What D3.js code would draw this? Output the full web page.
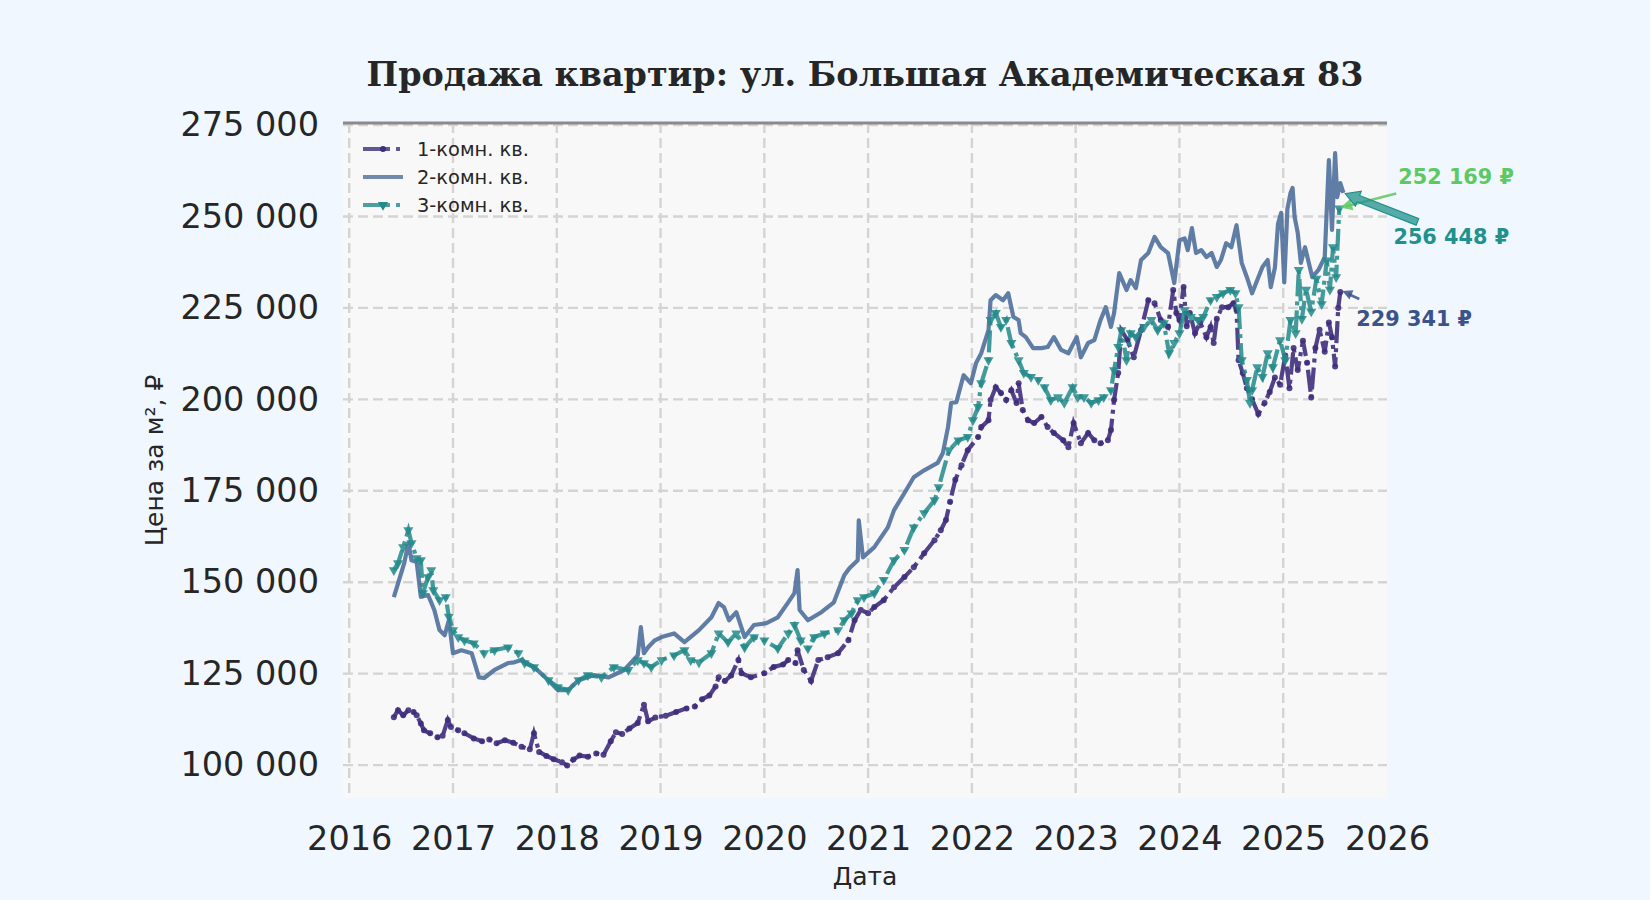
<!DOCTYPE html>
<html lang="ru">
<head>
<meta charset="utf-8">
<title>Продажа квартир</title>
<script src="https://cdn.jsdelivr.net/npm/d3@7"></script>
<style>
  body { margin: 0; background: #f0f7fe; }
</style>
</head>
<body>
<script>
// prices are in thousands of roubles per m2, dates as decimal years
var oneRoom = [[2016.43,113.1],[2016.47,115.0],[2016.52,113.6],[2016.57,115.0],[2016.62,114.5],[2016.65,113.6],[2016.69,111.4],[2016.72,109.5],[2016.78,108.7],[2016.85,107.6],[2016.90,108.0],[2016.95,112.3],[2016.98,110.4],[2017.05,109.5],[2017.11,108.7],[2017.20,107.3],[2017.28,106.5],[2017.35,107.0],[2017.42,106.0],[2017.50,106.8],[2017.58,106.1],[2017.66,105.0],[2017.74,104.3],[2017.78,108.7],[2017.83,103.6],[2017.90,102.5],[2017.97,101.6],[2018.05,100.8],[2018.10,99.9],[2018.16,101.5],[2018.22,102.6],[2018.30,102.3],[2018.38,103.2],[2018.45,102.8],[2018.52,106.5],[2018.57,109.0],[2018.63,108.5],[2018.70,110.0],[2018.78,111.5],[2018.84,116.5],[2018.88,112.0],[2018.95,113.0],[2019.05,113.5],[2019.15,114.5],[2019.25,115.5],[2019.33,116.0],[2019.40,118.0],[2019.47,119.0],[2019.53,121.5],[2019.56,124.0],[2019.62,123.0],[2019.68,124.5],[2019.75,128.7],[2019.78,125.1],[2019.87,124.0],[2020.00,125.1],[2020.09,126.8],[2020.18,127.5],[2020.23,128.7],[2020.30,127.9],[2020.32,131.4],[2020.38,126.0],[2020.45,123.0],[2020.52,128.7],[2020.61,129.5],[2020.71,130.6],[2020.81,134.1],[2020.87,139.6],[2020.93,142.4],[2021.00,141.5],[2021.06,143.2],[2021.15,145.1],[2021.25,148.6],[2021.35,151.4],[2021.44,154.1],[2021.54,157.9],[2021.64,161.5],[2021.70,164.2],[2021.75,167.0],[2021.79,172.0],[2021.84,178.0],[2021.90,182.0],[2021.96,186.1],[2022.06,189.7],[2022.09,192.4],[2022.16,194.3],[2022.18,199.8],[2022.23,203.3],[2022.28,201.7],[2022.33,199.8],[2022.38,202.5],[2022.43,199.0],[2022.45,204.4],[2022.49,197.1],[2022.54,194.3],[2022.60,193.5],[2022.67,195.2],[2022.73,192.4],[2022.79,190.8],[2022.88,188.8],[2022.93,186.9],[2022.98,193.5],[2023.05,188.0],[2023.12,190.8],[2023.18,188.8],[2023.24,188.0],[2023.31,188.8],[2023.34,191.6],[2023.37,199.8],[2023.41,207.2],[2023.44,218.9],[2023.50,216.2],[2023.56,211.5],[2023.63,218.9],[2023.70,227.1],[2023.76,226.3],[2023.82,221.7],[2023.89,219.8],[2023.94,229.9],[2023.97,223.6],[2024.00,221.7],[2024.04,230.7],[2024.07,220.0],[2024.10,223.6],[2024.15,218.1],[2024.20,221.0],[2024.26,217.0],[2024.30,219.8],[2024.33,215.4],[2024.36,222.0],[2024.41,225.2],[2024.47,225.2],[2024.52,226.3],[2024.55,224.4],[2024.57,210.7],[2024.61,207.2],[2024.65,203.0],[2024.70,200.0],[2024.76,196.0],[2024.82,199.0],[2024.87,202.0],[2024.92,206.0],[2024.97,204.0],[2025.02,212.0],[2025.06,203.0],[2025.10,214.0],[2025.14,208.0],[2025.19,216.0],[2025.23,210.0],[2025.27,200.5],[2025.31,214.0],[2025.35,219.0],[2025.40,213.0],[2025.44,221.0],[2025.47,217.0],[2025.50,209.0],[2025.53,225.0],[2025.55,229.341]];

var twoRoom = [[2016.43,145.9],[2016.53,155.2],[2016.57,160.7],[2016.60,156.0],[2016.65,155.5],[2016.69,146.0],[2016.76,146.5],[2016.82,142.4],[2016.87,136.9],[2016.92,135.5],[2016.96,139.6],[2017.00,130.6],[2017.08,131.4],[2017.18,130.6],[2017.25,124.0],[2017.30,123.8],[2017.40,126.0],[2017.53,127.9],[2017.59,128.1],[2017.66,128.7],[2017.78,126.8],[2017.92,123.2],[2018.01,120.5],[2018.11,120.5],[2018.21,123.2],[2018.36,124.6],[2018.50,124.0],[2018.65,126.0],[2018.78,130.0],[2018.81,137.7],[2018.84,130.6],[2018.88,132.2],[2018.94,134.0],[2019.01,135.0],[2019.13,136.0],[2019.23,133.6],[2019.37,136.9],[2019.49,140.4],[2019.56,144.3],[2019.61,143.2],[2019.66,139.6],[2019.73,141.8],[2019.81,135.0],[2019.90,138.3],[2020.02,138.8],[2020.13,140.4],[2020.23,144.5],[2020.29,147.0],[2020.32,153.3],[2020.34,142.4],[2020.42,139.6],[2020.55,141.8],[2020.67,144.5],[2020.77,151.9],[2020.82,153.8],[2020.90,156.0],[2020.91,166.9],[2020.95,156.8],[2021.06,159.6],[2021.19,165.0],[2021.25,169.7],[2021.35,174.4],[2021.44,178.7],[2021.54,180.6],[2021.67,182.6],[2021.72,185.3],[2021.77,192.4],[2021.80,199.0],[2021.85,199.2],[2021.92,206.6],[2021.99,204.4],[2022.04,209.9],[2022.09,212.6],[2022.16,218.9],[2022.18,227.1],[2022.23,228.5],[2022.30,227.1],[2022.35,229.0],[2022.40,222.5],[2022.45,221.7],[2022.47,218.1],[2022.52,217.0],[2022.59,214.0],[2022.67,214.0],[2022.73,214.3],[2022.79,217.0],[2022.86,213.5],[2022.93,212.6],[2023.01,217.0],[2023.05,211.5],[2023.12,215.4],[2023.18,216.2],[2023.24,221.7],[2023.29,225.2],[2023.34,219.8],[2023.37,223.6],[2023.42,234.5],[2023.49,229.9],[2023.53,232.6],[2023.58,230.4],[2023.63,238.1],[2023.70,240.0],[2023.76,244.4],[2023.82,241.6],[2023.89,240.0],[2023.95,231.8],[2024.00,243.5],[2024.05,244.0],[2024.08,240.8],[2024.12,246.8],[2024.16,240.0],[2024.21,240.8],[2024.26,238.9],[2024.31,240.0],[2024.36,236.2],[2024.40,238.1],[2024.45,242.7],[2024.50,241.6],[2024.55,247.6],[2024.60,237.3],[2024.65,233.4],[2024.70,229.0],[2024.75,232.6],[2024.80,236.2],[2024.85,238.1],[2024.88,230.7],[2024.92,236.0],[2024.95,248.0],[2024.98,251.0],[2025.01,232.0],[2025.04,252.0],[2025.07,256.4],[2025.09,257.8],[2025.11,249.8],[2025.14,245.5],[2025.17,237.3],[2025.21,241.6],[2025.28,233.4],[2025.34,235.4],[2025.40,238.9],[2025.44,265.4],[2025.47,246.3],[2025.50,267.3],[2025.52,255.3],[2025.55,259.1],[2025.58,256.448]];

var threeRoom = [[2016.43,153.3],[2016.47,155.2],[2016.52,159.6],[2016.57,164.2],[2016.60,160.7],[2016.65,156.6],[2016.69,156.0],[2016.71,147.0],[2016.76,151.4],[2016.79,153.3],[2016.81,147.8],[2016.87,145.1],[2016.93,145.9],[2016.96,140.6],[2017.00,136.9],[2017.05,135.0],[2017.11,134.1],[2017.20,133.3],[2017.30,130.6],[2017.40,131.4],[2017.53,132.2],[2017.63,130.6],[2017.69,127.9],[2017.78,126.8],[2017.92,123.2],[2018.01,121.3],[2018.11,120.5],[2018.21,123.2],[2018.30,124.6],[2018.43,124.0],[2018.55,126.8],[2018.69,126.0],[2018.78,128.7],[2018.84,127.9],[2018.91,126.8],[2019.01,128.7],[2019.13,130.0],[2019.23,131.4],[2019.29,128.7],[2019.37,128.1],[2019.49,130.6],[2019.56,136.0],[2019.65,133.6],[2019.73,136.0],[2019.81,132.2],[2019.90,135.0],[2020.00,134.1],[2020.13,131.9],[2020.23,136.0],[2020.29,138.3],[2020.35,134.1],[2020.42,131.9],[2020.48,135.0],[2020.58,136.0],[2020.71,136.9],[2020.77,139.6],[2020.84,141.5],[2020.90,145.1],[2020.96,145.9],[2021.06,147.0],[2021.15,150.6],[2021.25,156.0],[2021.35,158.8],[2021.44,165.0],[2021.54,168.9],[2021.64,172.4],[2021.68,176.0],[2021.78,186.1],[2021.87,188.8],[2021.96,189.7],[2022.01,194.3],[2022.06,197.9],[2022.09,204.4],[2022.16,210.7],[2022.18,221.7],[2022.23,223.6],[2022.28,219.8],[2022.33,221.7],[2022.38,215.4],[2022.45,210.7],[2022.50,207.2],[2022.57,206.1],[2022.64,205.3],[2022.70,203.3],[2022.76,199.8],[2022.83,200.6],[2022.89,199.0],[2022.97,203.3],[2023.02,200.6],[2023.08,200.6],[2023.15,199.0],[2023.22,199.8],[2023.27,200.6],[2023.34,202.5],[2023.37,208.0],[2023.41,214.3],[2023.44,218.9],[2023.49,210.7],[2023.53,218.1],[2023.58,217.0],[2023.66,219.8],[2023.73,221.7],[2023.79,218.9],[2023.85,220.8],[2023.90,212.6],[2023.95,215.4],[2024.00,218.1],[2024.05,224.4],[2024.11,222.5],[2024.18,221.7],[2024.23,222.5],[2024.30,227.1],[2024.36,228.0],[2024.42,229.0],[2024.49,229.9],[2024.54,229.0],[2024.57,225.2],[2024.60,210.7],[2024.65,205.3],[2024.68,199.0],[2024.70,202.5],[2024.75,208.8],[2024.80,206.1],[2024.85,212.6],[2024.90,208.8],[2024.97,216.2],[2025.02,210.7],[2025.07,221.7],[2025.12,218.1],[2025.15,235.4],[2025.18,222.0],[2025.22,230.0],[2025.27,224.0],[2025.32,233.0],[2025.37,226.0],[2025.42,238.0],[2025.45,230.0],[2025.48,241.6],[2025.51,233.4],[2025.54,252.169]];

var seriesNames = ["1-комн. кв.", "2-комн. кв.", "3-комн. кв."];
var seriesColors = ["#3f2e7c", "#4f6f9c", "#23898a"];
var yearTicks = [2016, 2017, 2018, 2019, 2020, 2021, 2022, 2023, 2024, 2025, 2026];
var priceTicks = [100, 125, 150, 175, 200, 225, 250, 275];
// annotation colours, in series order (as in the source)
var labelColors = ["#3b528b", "#21918c", "#5ec962"];

var W = 1650, H = 900;
var mLeft = 343, mRight = 1387, mTop = 123, mBottom = 798;
var sans = "DejaVu Sans, sans-serif";

var svg = d3.select("body").append("svg")
    .attr("width", W).attr("height", H)
    .style("font-family", sans);

svg.append("rect").attr("width", W).attr("height", H).attr("fill", "#f0f7fe");

var x = d3.scaleLinear().domain([2015.94, 2026.0]).range([mLeft, mRight]);
var y = d3.scaleLinear().domain([91, 275.55]).range([mBottom, mTop]);

svg.append("rect")
    .attr("x", mLeft).attr("y", mTop)
    .attr("width", mRight - mLeft).attr("height", mBottom - mTop)
    .attr("fill", "#f8f8f8");

// grid
var grid = svg.append("g").attr("stroke", "#d4d4d4").attr("stroke-width", 2.4)
    .attr("stroke-dasharray", "10,5");
grid.selectAll(".vg").data(yearTicks.filter(function(d){ return d < 2026; })).enter()
    .append("line")
    .attr("x1", function(d){ return x(d); }).attr("x2", function(d){ return x(d); })
    .attr("y1", mTop).attr("y2", mBottom);
grid.selectAll(".hg").data(priceTicks).enter()
    .append("line")
    .attr("x1", mLeft).attr("x2", mRight)
    .attr("y1", function(d){ return y(d); }).attr("y2", function(d){ return y(d); });

// top spine
svg.append("line").attr("x1", mLeft).attr("x2", mRight).attr("y1", mTop).attr("y2", mTop)
    .attr("stroke", "#8a8a8a").attr("stroke-width", 3);

// axes (labels only)
var fmt = function(d){ return d3.format(",")(d * 1000).replace(/,/g, " "); };
var yAxis = svg.append("g").attr("transform", "translate(" + mLeft + ",0)")
    .call(d3.axisLeft(y).tickValues(priceTicks).tickFormat(fmt).tickSize(0).tickPadding(24));
var xAxis = svg.append("g").attr("transform", "translate(0," + mBottom + ")")
    .call(d3.axisBottom(x).tickValues(yearTicks).tickFormat(d3.format("d")).tickSize(0).tickPadding(28));
[yAxis, xAxis].forEach(function(a){
    a.select(".domain").remove();
    a.attr("font-family", sans).attr("font-size", 33.5);
    a.selectAll("text").attr("fill", "#262626");
});

svg.append("text").attr("x", (mLeft + mRight) / 2).attr("y", 885)
    .attr("text-anchor", "middle").attr("font-size", 25).attr("fill", "#262626")
    .text("Дата");
svg.append("text").attr("transform", "translate(163," + ((mTop + mBottom) / 2) + ") rotate(-90)")
    .attr("text-anchor", "middle").attr("font-size", 25).attr("fill", "#262626")
    .text("Цена за м², ₽");

svg.append("text").attr("x", (mLeft + mRight) / 2).attr("y", 86)
    .attr("text-anchor", "middle").attr("font-size", 33.4).attr("font-weight", "bold")
    .style("font-family", "DejaVu Serif, serif").attr("fill", "#262626")
    .text("Продажа квартир: ул. Большая Академическая 83");

var line = d3.line().x(function(d){ return x(d[0]); }).y(function(d){ return y(d[1]); });
var dash = "22,5,4,5";
var triangle = d3.symbol().type(d3.symbolTriangle).size(44);

var plot = svg.append("g");

// 1-комн
plot.append("path").datum(oneRoom).attr("d", line)
    .attr("fill", "none").attr("stroke", seriesColors[0]).attr("stroke-width", 4.2)
    .attr("stroke-dasharray", dash).attr("opacity", 0.9);
plot.append("g").selectAll("circle").data(oneRoom).enter().append("circle")
    .attr("cx", function(d){ return x(d[0]); }).attr("cy", function(d){ return y(d[1]); })
    .attr("r", 3).attr("fill", seriesColors[0]).attr("opacity", 0.9);

// 2-комн
plot.append("path").datum(twoRoom).attr("d", line)
    .attr("fill", "none").attr("stroke", seriesColors[1]).attr("stroke-width", 4.2)
    .attr("stroke-linejoin", "round").attr("opacity", 0.9);

// 3-комн
plot.append("path").datum(threeRoom).attr("d", line)
    .attr("fill", "none").attr("stroke", seriesColors[2]).attr("stroke-width", 4.2)
    .attr("stroke-dasharray", dash).attr("opacity", 0.85);
plot.append("g").selectAll("path").data(threeRoom).enter().append("path")
    .attr("d", triangle)
    .attr("transform", function(d){ return "translate(" + x(d[0]) + "," + y(d[1]) + ") rotate(180)"; })
    .attr("fill", seriesColors[2]).attr("opacity", 0.85);

// legend
var legend = svg.append("g");
[0, 1, 2].forEach(function(i){
    var ly = 149 + i * 28;
    var g = legend.append("g");
    g.append("line").attr("x1", 363).attr("x2", 403).attr("y1", ly).attr("y2", ly)
        .attr("stroke", seriesColors[i]).attr("stroke-width", 4)
        .attr("stroke-dasharray", i === 1 ? null : "27,6,4,6").attr("opacity", 0.8);
    if (i === 0) g.append("circle").attr("cx", 383).attr("cy", ly).attr("r", 3).attr("fill", seriesColors[0]);
    if (i === 2) g.append("path").attr("d", triangle)
        .attr("transform", "translate(383," + ly + ") rotate(180)").attr("fill", seriesColors[2]);
    g.append("text").attr("x", 417).attr("y", ly + 7).attr("font-size", 19.4)
        .attr("fill", "#262626").text(seriesNames[i]);
});

// end-value annotations
var ends = [oneRoom, twoRoom, threeRoom].map(function(s){ return s[s.length - 1]; });
var rub = function(v){ return d3.format(",")(Math.round(v * 1000)).replace(/,/g, " ") + " ₽"; };
var ann = svg.append("g").attr("font-weight", "bold").attr("font-size", 20.8)
    .style("font-family", sans);

// 3-комн end, green
var p3 = [x(ends[2][0]), y(ends[2][1])];
ann.append("line").attr("x1", p3[0] + 57).attr("y1", p3[1] - 15).attr("x2", p3[0] + 6).attr("y2", p3[1] - 2)
    .attr("stroke", labelColors[2]).attr("stroke-width", 2.5).attr("opacity", 0.85);
ann.append("path").attr("d", "M0,0 L-12,-6 L-12,6 Z")
    .attr("transform", "translate(" + (p3[0] + 1) + "," + (p3[1] - 1) + ") rotate(" + (Math.atan2(13, -51) * 180 / Math.PI) + ")")
    .attr("fill", labelColors[2]).attr("opacity", 0.85);
ann.append("text").attr("x", p3[0] + 59).attr("y", p3[1] - 25).attr("fill", labelColors[2]).text(rub(ends[2][1]));

// 2-комн end, teal wide arrow
var p2 = [x(ends[1][0]), y(ends[1][1])];
var tx = p2[0] + 74, ty = p2[1] + 29;
var ang = Math.atan2(p2[1] - ty, p2[0] - tx);
var len = Math.hypot(p2[0] - tx, p2[1] - ty) - 2;
ann.append("path")
    .attr("d", "M0,-3.5 L" + (len - 14) + ",-3.5 L" + (len - 14) + ",-8 L" + len + ",0 L" + (len - 14) + ",8 L" + (len - 14) + ",3.5 L0,3.5 Z")
    .attr("transform", "translate(" + tx + "," + ty + ") rotate(" + (ang * 180 / Math.PI) + ")")
    .attr("fill", labelColors[1]).attr("fill-opacity", 0.75)
    .attr("stroke", labelColors[1]).attr("stroke-width", 1.2);
ann.append("text").attr("x", p2[0] + 50).attr("y", p2[1] + 51).attr("fill", labelColors[1]).text(rub(ends[1][1]));

// 1-комн end, blue
var p1 = [x(ends[0][0]), y(ends[0][1])];
ann.append("line").attr("x1", p1[0] + 19).attr("y1", p1[1] + 7).attr("x2", p1[0] + 8).attr("y2", p1[1] + 2)
    .attr("stroke", labelColors[0]).attr("stroke-width", 2.5).attr("opacity", 0.85);
ann.append("path").attr("d", "M0,0 L-10,-5 L-10,5 Z")
    .attr("transform", "translate(" + (p1[0] + 2) + "," + (p1[1] - 1) + ") rotate(" + (Math.atan2(-6, -14) * 180 / Math.PI) + ")")
    .attr("fill", labelColors[0]).attr("opacity", 0.85);
ann.append("text").attr("x", p1[0] + 16).attr("y", p1[1] + 34).attr("fill", labelColors[0]).text(rub(ends[0][1]));
</script>
</body>
</html>
